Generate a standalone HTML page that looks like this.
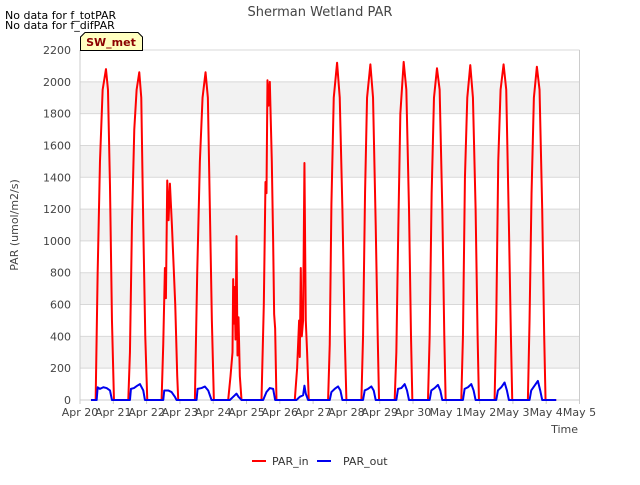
<!DOCTYPE html>
<html><head><meta charset="utf-8"><style>
body{margin:0;background:#fff;font-family:"Liberation Sans","DejaVu Sans",sans-serif}
svg text{font-family:"DejaVu Sans","Liberation Sans",sans-serif}
</style></head><body>
<svg id="c" width="640" height="480" xmlns="http://www.w3.org/2000/svg"></svg>
<script>
const yTicks=[0,200,400,600,800,1000,1200,1400,1600,1800,2000,2200];
const xLabels=["Apr 20","Apr 21","Apr 22","Apr 23","Apr 24","Apr 25","Apr 26","Apr 27","Apr 28","Apr 29","Apr 30","May 1","May 2","May 3","May 4","May 5"];
// [day offset from Apr 20, value]
const parIn=[[0.33,0],[0.47,0],[0.53,800],[0.6,1500],[0.68,1950],[0.78,2080],[0.84,1950],[0.9,1350],[0.96,500],[1.02,0],
[1.45,0],[1.5,300],[1.56,1100],[1.63,1700],[1.7,1950],[1.78,2060],[1.84,1900],[1.9,1100],[1.96,400],[2.02,0],
[2.45,0],[2.5,350],[2.55,830],[2.58,640],[2.62,1380],[2.66,1130],[2.7,1360],[2.76,1100],[2.86,600],[2.92,150],[2.95,0],
[3.45,0],[3.52,800],[3.6,1500],[3.68,1900],[3.77,2060],[3.84,1900],[3.9,1200],[3.96,500],[4.02,0],
[4.45,0],[4.52,150],[4.58,300],[4.6,760],[4.62,480],[4.64,710],[4.67,380],[4.7,1030],[4.73,280],[4.76,520],[4.8,150],[4.85,0],
[5.45,0],[5.52,600],[5.57,1370],[5.6,1300],[5.63,2010],[5.66,1850],[5.7,2000],[5.76,1500],[5.8,1000],[5.83,540],[5.86,450],[5.9,0],
[6.45,0],[6.52,200],[6.58,500],[6.6,270],[6.63,830],[6.66,400],[6.7,500],[6.74,1490],[6.78,500],[6.82,300],[6.87,0],
[7.45,0],[7.5,350],[7.55,1230],[7.62,1900],[7.72,2120],[7.8,1900],[7.88,1200],[7.95,400],[8.0,0],
[8.45,0],[8.5,400],[8.56,1300],[8.62,1900],[8.72,2110],[8.8,1900],[8.88,1100],[8.94,400],[8.98,0],
[9.45,0],[9.5,300],[9.56,1100],[9.62,1800],[9.72,2125],[9.8,1950],[9.88,1200],[9.94,400],[9.98,0],
[10.45,0],[10.5,400],[10.56,1300],[10.63,1900],[10.72,2085],[10.8,1950],[10.88,1200],[10.94,400],[10.98,0],
[11.45,0],[11.5,400],[11.56,1400],[11.63,1900],[11.72,2105],[11.8,1900],[11.88,1200],[11.94,400],[11.98,0],
[12.45,0],[12.5,500],[12.56,1500],[12.63,1950],[12.72,2110],[12.8,1950],[12.88,1100],[12.94,400],[12.98,0],
[13.45,0],[13.5,500],[13.56,1300],[13.63,1900],[13.72,2095],[13.8,1950],[13.88,1200],[13.94,400],[13.98,0],[14.3,0]];
const parOut=[[0.33,0],[0.5,0],[0.53,80],[0.6,70],[0.7,80],[0.8,75],[0.9,60],[0.96,0],
[1.5,0],[1.53,70],[1.62,75],[1.72,90],[1.8,100],[1.9,60],[1.95,0],
[2.5,0],[2.53,60],[2.65,60],[2.75,50],[2.85,20],[2.9,0],
[3.5,0],[3.53,70],[3.65,75],[3.75,85],[3.85,60],[3.95,0],
[4.5,0],[4.6,20],[4.7,40],[4.76,20],[4.85,0],
[5.5,0],[5.6,50],[5.7,75],[5.8,70],[5.86,0],
[6.5,0],[6.6,20],[6.7,30],[6.74,90],[6.78,40],[6.85,0],
[7.5,0],[7.55,50],[7.65,70],[7.75,85],[7.82,60],[7.88,0],
[8.5,0],[8.55,60],[8.65,70],[8.75,85],[8.82,60],[8.88,0],
[9.5,0],[9.55,70],[9.65,75],[9.75,100],[9.82,60],[9.88,0],
[10.5,0],[10.55,60],[10.65,75],[10.75,95],[10.82,60],[10.88,0],
[11.5,0],[11.55,70],[11.65,80],[11.75,100],[11.82,60],[11.88,0],
[12.5,0],[12.55,60],[12.65,80],[12.75,110],[12.82,60],[12.88,0],
[13.5,0],[13.55,60],[13.65,90],[13.75,120],[13.82,60],[13.88,0],[14.3,0]];
const L=80,R=579.5,T=50,B=400;
const xs=d=>L+d*(R-L)/15, ys=v=>B-v*(B-T)/2200;
const svg=document.getElementById('c');
const NS='http://www.w3.org/2000/svg';
function mk(t,a,txt){const e=document.createElementNS(NS,t);for(const k in a)e.setAttribute(k,a[k]);if(txt!=null)e.textContent=txt;svg.appendChild(e);return e;}
let e;
e=mk('rect',{x:L,y:T,width:R-L,height:B-T,fill:'#fff'});


for(let i=1;i<yTicks.length-1;i+=2){
 e=mk('rect',{x:L,y:ys(yTicks[i+1]),width:R-L,height:ys(yTicks[i])-ys(yTicks[i+1]),fill:'#f2f2f2'});
 
 
}
yTicks.forEach(v=>{
 e=mk('line',{x1:L,x2:R,y1:ys(v),y2:ys(v),stroke:'#d8d8d8','stroke-width':1});
 
 
 e=mk('text',{x:L-9,y:ys(v)+4,'text-anchor':'end','font-size':11,fill:'#444'},v);
 
 
});
xLabels.forEach((s,i)=>{
 e=mk('line',{x1:xs(i),x2:xs(i),y1:B,y2:B+4,stroke:'#ccc'});
 
 
 e=mk('text',{x:xs(i),y:B+16,'text-anchor':'middle','font-size':11,fill:'#444'},s);
 
 
});
e=mk('line',{x1:L,x2:L,y1:T,y2:B,stroke:'#ccc'});


e=mk('line',{x1:R,x2:R,y1:T,y2:B,stroke:'#ccc'});


e=mk('line',{x1:L,x2:R,y1:B,y2:B,stroke:'#ccc'});


function series(data,col,name){
 const p=mk('polyline',{points:data.map(d=>xs(d[0])+','+ys(d[1])).join(' '),fill:'none',stroke:col,'stroke-width':2,'stroke-linejoin':'round'});
 
 
}
series(parIn,'#ff0000','par-in-line');
series(parOut,'#0000ee','par-out-line');
e=mk('text',{x:320,y:16,'text-anchor':'middle','font-size':13,fill:'#444'},'Sherman Wetland PAR');


e=mk('text',{x:5,y:19,'font-size':11,fill:'#000'},'No data for f_totPAR');


e=mk('text',{x:5,y:29,'font-size':11,fill:'#000'},'No data for f_difPAR');


e=mk('path',{d:'M80.5,50.5 V37 L85,32.5 H138 L142.5,37 V50.5 Z',fill:'#ffffc0',stroke:'#000'});


e=mk('text',{x:111,y:46,'text-anchor':'middle','font-size':11,'font-weight':'bold',fill:'#8b0000'},'SW_met');


e=mk('text',{x:18,y:225,'text-anchor':'middle','font-size':11,fill:'#444',transform:'rotate(-90 18 225)'},'PAR (umol/m2/s)');


e=mk('text',{x:578,y:433,'text-anchor':'end','font-size':11,fill:'#444'},'Time');


e=mk('line',{x1:252,x2:266,y1:461,y2:461,stroke:'#ff0000','stroke-width':2});


e=mk('text',{x:272,y:465,'font-size':11,fill:'#333'},'PAR_in');


e=mk('line',{x1:317,x2:331,y1:461,y2:461,stroke:'#0000ee','stroke-width':2});


e=mk('text',{x:343,y:465,'font-size':11,fill:'#333'},'PAR_out');


</script>
</body></html>
